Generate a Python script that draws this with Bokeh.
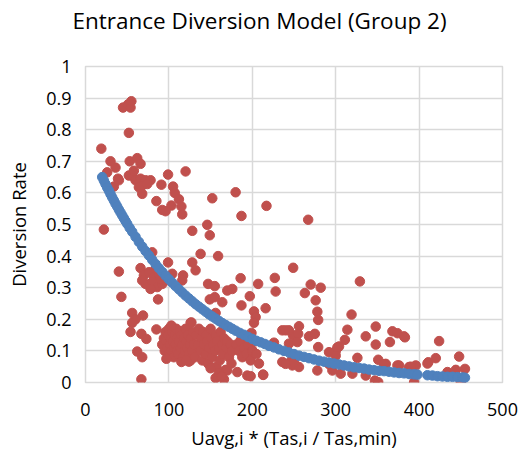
from bokeh.plotting import figure
from bokeh.models import Range1d, FixedTicker, ColumnDataSource, Title
from bokeh.embed import file_html
from bokeh.resources import INLINE

# Observed diversion rates (red)
obs_x = [45, 51, 54, 55, 52, 19, 30, 36, 26, 39, 34, 40,
         53, 62, 66, 56, 52, 60, 66, 72, 78, 68, 64, 68, 74, 58,
         99, 120, 91, 105, 107, 85, 103, 92, 96, 112, 115, 116, 22, 128,
         180, 152, 217, 187, 146, 149,
         80, 40, 66, 99, 128, 117, 116, 104,
         70, 76, 82, 88, 72, 80, 86, 92, 78, 68, 84, 96, 90,
         87, 43, 56, 69, 60, 56, 85, 54, 67, 73, 62, 68, 67, 127, 126,
         138, 159, 132, 186, 227, 207, 228, 249, 147, 155, 170, 176, 197, 149, 155, 164, 187, 216, 202, 204, 202, 156, 126, 236, 240, 199, 249, 226, 244,
         186, 190, 194, 200, 182, 194, 213, 156, 166, 170, 236, 247, 124, 128,
         92, 94, 95, 96, 97, 98, 99, 100, 100, 101, 102, 103, 104, 105, 106, 106, 107, 108, 109, 110, 110, 111, 112, 113, 114, 115, 116, 117, 118, 119, 120, 121, 122, 123, 124, 125, 126, 128, 129, 130, 131, 97, 103, 115, 121,
         133, 135, 136, 138, 139, 140, 141, 142, 144, 145, 146, 147, 148, 150, 151, 152, 153, 155, 156, 157, 158, 160, 161, 162, 164, 165, 166, 168, 169, 170, 172, 174, 175, 160, 163, 150, 176,
         181, 184, 186, 188, 190, 193, 195, 198, 200, 203, 205, 208,
         267, 329, 263, 270, 282, 276, 278, 279, 319, 256, 255, 254, 244,
         268, 275, 279, 314, 311, 304, 300, 292, 336, 348, 348, 368, 374, 365, 326, 351, 360, 374, 248, 256, 278, 296, 306, 320, 336, 347, 351, 240,
         383, 424, 376, 388, 396, 394, 411, 420, 448, 434, 444, 455, 450,
         225, 382, 358, 390, 410, 213, 198, 302, 300, 292, 250]
obs_y = [0.87, 0.88, 0.87, 0.89, 0.79, 0.74, 0.70, 0.68, 0.665, 0.645, 0.62, 0.64,
         0.70, 0.71, 0.692, 0.655, 0.655, 0.64, 0.645, 0.64, 0.64, 0.623, 0.618, 0.597, 0.628, 0.67,
         0.658, 0.668, 0.626, 0.62, 0.60, 0.574, 0.56, 0.546, 0.542, 0.58, 0.557, 0.532, 0.484, 0.48,
         0.602, 0.583, 0.559, 0.527, 0.499, 0.466,
         0.412, 0.351, 0.362, 0.38, 0.38, 0.339, 0.323, 0.344,
         0.339, 0.349, 0.333, 0.344, 0.312, 0.317, 0.302, 0.312, 0.296, 0.323, 0.36, 0.323, 0.328,
         0.263, 0.271, 0.22, 0.212, 0.2, 0.189, 0.168, 0.16, 0.154, 0.138, 0.098, 0.08, 0.01, 0.19, 0.07,
         0.407, 0.4, 0.355, 0.33, 0.331, 0.312, 0.288, 0.363, 0.312, 0.305, 0.291, 0.296, 0.273, 0.263, 0.27, 0.254, 0.244, 0.235, 0.225, 0.207, 0.189, 0.22, 0.189, 0.165, 0.165, 0.157, 0.149, 0.126, 0.123,
         0.133, 0.112, 0.096, 0.101, 0.033, 0.022, 0.024, 0.014, 0.01, 0.038, 0.065, 0.07, 0.066, 0.085,
         0.12, 0.14, 0.10, 0.16, 0.13, 0.11, 0.15, 0.09, 0.17, 0.12, 0.14, 0.10, 0.16, 0.13, 0.08, 0.11, 0.15, 0.12, 0.17, 0.10, 0.14, 0.09, 0.13, 0.16, 0.11, 0.15, 0.12, 0.08, 0.14, 0.10, 0.17, 0.13, 0.11, 0.15, 0.09, 0.12, 0.14, 0.10, 0.16, 0.12, 0.08, 0.075, 0.18, 0.065, 0.07,
         0.15, 0.12, 0.17, 0.10, 0.14, 0.07, 0.16, 0.12, 0.09, 0.15, 0.13, 0.06, 0.11, 0.17, 0.14, 0.08, 0.12, 0.10, 0.15, 0.05, 0.13, 0.11, 0.07, 0.16, 0.12, 0.09, 0.14, 0.04, 0.11, 0.13, 0.08, 0.12, 0.06, 0.03, 0.02, 0.045, 0.10,
         0.12, 0.10, 0.13, 0.08, 0.11, 0.09, 0.12, 0.07, 0.10, 0.13, 0.09, 0.06,
         0.515, 0.32, 0.283, 0.31, 0.30, 0.26, 0.224, 0.198, 0.215, 0.178, 0.154, 0.128, 0.165,
         0.146, 0.154, 0.112, 0.167, 0.135, 0.114, 0.099, 0.096, 0.146, 0.177, 0.12, 0.162, 0.156, 0.128, 0.078, 0.072, 0.059, 0.054, 0.054, 0.049, 0.038, 0.038, 0.028, 0.028, 0.022, 0.006, 0.001, 0.059,
         0.143, 0.131, 0.054, 0.049, 0.054, 0.001, 0.064, 0.077, 0.082, 0.033, 0.04, 0.043, 0.0,
         0.117, 0.146, 0.058, 0.05, 0.06, 0.025, 0.02, 0.111, 0.085, 0.058, 0.064]

# Model predictions (blue)
model_x = [20, 22, 24, 26, 28, 30, 32, 34, 36, 38, 40, 42, 44, 46, 48, 50, 53, 56, 60, 64,
           68, 72, 76, 80, 84, 88, 92, 96, 100, 104, 108, 112, 116, 120, 124, 128, 132, 136, 140, 144,
           148, 152, 156, 160, 164, 168, 172, 176, 180, 185, 190, 195, 200, 205, 210, 215, 220, 226, 232, 238,
           244, 250, 256, 262, 268, 274, 280, 286, 292, 298, 304, 310, 316, 322, 328, 334, 340, 346, 352, 358,
           364, 370, 376, 382, 388, 394, 398, 410, 416, 422, 428, 434, 440, 446, 452, 455]
model_y = [0.650, 0.639, 0.628, 0.617, 0.607, 0.596, 0.586, 0.576, 0.566, 0.557, 0.547, 0.538, 0.529, 0.520, 0.511, 0.502, 0.489, 0.477, 0.461, 0.445,
           0.430, 0.416, 0.402, 0.388, 0.375, 0.362, 0.350, 0.338, 0.327, 0.316, 0.305, 0.295, 0.285, 0.275, 0.266, 0.257, 0.248, 0.240, 0.232, 0.224,
           0.216, 0.209, 0.202, 0.195, 0.188, 0.182, 0.176, 0.170, 0.164, 0.157, 0.151, 0.144, 0.138, 0.132, 0.127, 0.122, 0.116, 0.111, 0.105, 0.100,
           0.095, 0.090, 0.085, 0.081, 0.077, 0.073, 0.069, 0.066, 0.063, 0.060, 0.057, 0.054, 0.051, 0.048, 0.046, 0.044, 0.041, 0.039, 0.037, 0.036,
           0.034, 0.032, 0.030, 0.029, 0.027, 0.026, 0.025, 0.023, 0.022, 0.020, 0.019, 0.018, 0.018, 0.017, 0.016, 0.015]

x_ticks = [0, 100, 200, 300, 400, 500]
y_ticks = [0, 0.1, 0.2, 0.3, 0.4, 0.5, 0.6, 0.7, 0.8, 0.9, 1]
y_tick_labels = ["0", "0.1", "0.2", "0.3", "0.4", "0.5", "0.6", "0.7", "0.8", "0.9", "1"]
title_text = "Entrance Diversion Model (Group 2)"

FONT = "Open Sans"
GRID = "#D9D9D9"

p = figure(width=521, height=461, x_range=Range1d(0, 500), y_range=Range1d(0, 1),
           output_backend="svg", toolbar_location=None,
           min_border_left=85, min_border_right=19, min_border_top=66, min_border_bottom=79)

# invisible spacer between the title and the plot area
spacer = Title(text=" ", text_font=FONT, text_font_size="16.5px", standoff=0)
p.add_layout(spacer, "above")
main_title = Title(text=title_text, text_font=FONT, text_font_size="22.5px",
                   text_font_style="normal", text_color="#000000",
                   align="left", offset=-13, vertical_align="top", standoff=8)
p.add_layout(main_title, "above")

p.outline_line_color = GRID
p.outline_line_width = 1.5
p.background_fill_color = "white"
p.border_fill_color = "white"

p.xaxis.ticker = FixedTicker(ticks=x_ticks)
p.yaxis.ticker = FixedTicker(ticks=y_ticks)
p.yaxis.major_label_overrides = {v: s for v, s in zip(y_ticks, y_tick_labels)}

for ax in (p.xaxis, p.yaxis):
    ax.axis_line_color = None
    ax.major_tick_line_color = None
    ax.minor_tick_line_color = None
    ax.major_label_text_font = FONT
    ax.major_label_text_font_size = "18px"
    ax.major_label_text_color = "#000000"
    ax.axis_label_text_font = FONT
    ax.axis_label_text_font_size = "18.5px"
    ax.axis_label_text_font_style = "normal"
    ax.axis_label_text_color = "#000000"

p.xaxis.axis_label = "Uavg,i * (Tas,i / Tas,min)"
p.yaxis.axis_label = "Diversion Rate"
p.xaxis.major_label_standoff = 14
p.yaxis.major_label_standoff = 8
p.xaxis.axis_label_standoff = 6
p.yaxis.axis_label_standoff = 12

p.xgrid.grid_line_color = GRID
p.ygrid.grid_line_color = GRID
p.xgrid.grid_line_width = 1.5
p.ygrid.grid_line_width = 1.5

obs = ColumnDataSource(dict(x=obs_x, y=obs_y))
mod = ColumnDataSource(dict(x=model_x, y=model_y))
p.scatter("x", "y", source=obs, size=9.5, fill_color="#C0504D", line_color="#C0504D")
p.scatter("x", "y", source=mod, size=9.5, fill_color="#4F81BD", line_color="#4F81BD")

open("out.html", "w").write(file_html(p, INLINE))
